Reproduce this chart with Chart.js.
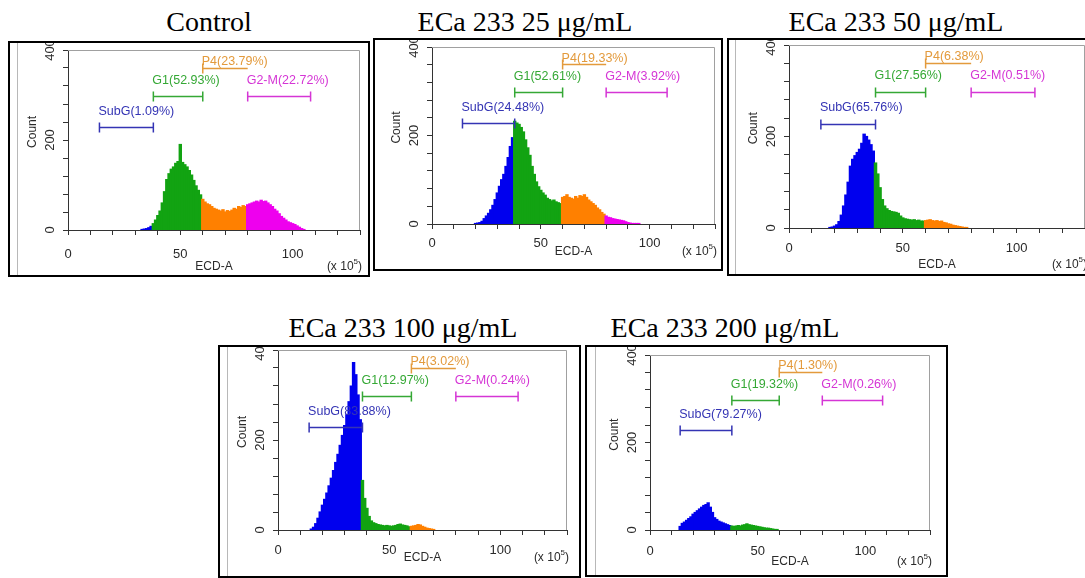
<!DOCTYPE html>
<html>
<head>
<meta charset="utf-8">
<script src="https://cdn.jsdelivr.net/npm/chart.js@4.4.1/dist/chart.umd.min.js"></script>
<style>
  body { margin: 0; background: #fff; width: 1085px; height: 578px; position: relative; overflow: hidden; }
  .title { position: absolute; font-family: "Liberation Serif", "Times New Roman", serif; font-size: 28px; line-height: 1; color: #000; white-space: nowrap; transform: translateX(-50%); }
  .frame { position: absolute; border: 2px solid #000; box-sizing: border-box; overflow: hidden; background: #fff; }
  .frame canvas { position: absolute; left: 0; top: 0; }
  .edge { position: absolute; top: 0; bottom: 0; width: 1px; background: #b8b8b8; }
</style>
</head>
<body>
<script>
// panel titles
const titles = ['Control', 'ECa 233 25 \u03bcg/mL', 'ECa 233 50 \u03bcg/mL', 'ECa 233 100 \u03bcg/mL', 'ECa 233 200 \u03bcg/mL'];

// histogram counts, one bin per x unit (ECD-A, x10^5), first bin given below
const firstBin = [33, 20, 18, 15, 14];
const controlCounts = [1, 2, 3, 5, 8, 14, 22, 32, 42, 60, 85, 112, 125, 135, 140, 148, 152, 190, 150, 145, 140, 132, 122, 110, 98, 88, 78, 68, 62, 58, 56, 52, 48, 46, 44, 42, 45, 40, 43, 41, 44, 48, 46, 52, 50, 54, 52, 56, 58, 60, 62, 64, 62, 66, 63, 64, 60, 56, 52, 46, 42, 36, 30, 26, 22, 18, 16, 14, 12, 9, 6, 3, 1];
const eca25Counts = [1, 2, 3, 6, 12, 18, 24, 32, 42, 55, 70, 85, 100, 112, 130, 150, 175, 195, 232, 228, 225, 218, 208, 190, 172, 155, 130, 112, 95, 84, 76, 70, 65, 58, 55, 52, 54, 50, 48, 46, 60, 62, 66, 60, 58, 56, 62, 58, 64, 62, 66, 60, 54, 50, 46, 42, 36, 32, 26, 22, 18, 15, 14, 12, 11, 10, 9, 8, 7, 5, 3, 2, 1, 1, 1, 1];
const eca50Counts = [1, 2, 4, 7, 14, 28, 48, 72, 100, 135, 150, 158, 165, 172, 185, 205, 200, 192, 182, 168, 142, 118, 88, 62, 48, 42, 38, 36, 35, 34, 32, 26, 22, 20, 19, 18, 17, 18, 16, 17, 15, 15, 16, 17, 18, 16, 15, 16, 14, 15, 12, 11, 9, 8, 6, 5, 4, 3, 2, 1, 1];
const eca100Counts = [2, 6, 14, 26, 40, 55, 68, 82, 98, 115, 132, 150, 168, 188, 210, 232, 256, 285, 320, 372, 345, 300, 245, 110, 70, 48, 30, 20, 16, 14, 12, 11, 10, 9, 10, 9, 8, 9, 10, 12, 13, 11, 10, 9, 7, 8, 9, 10, 12, 11, 8, 6, 4, 3, 2, 1];
const eca200Counts = [8, 15, 18, 22, 26, 30, 36, 40, 44, 48, 52, 56, 58, 62, 52, 40, 28, 24, 20, 18, 16, 14, 12, 10, 9, 8, 9, 10, 9, 11, 12, 14, 12, 11, 10, 9, 8, 7, 6, 5, 4, 4, 3, 2, 1, 1];
const allCounts = [controlCounts, eca25Counts, eca50Counts, eca100Counts, eca200Counts];

// gates
const gateNames = ['SubG', 'G1', 'P4', 'G2-M'];
const gateFrom = [14, 38, 60, 80];
const gateTo = [38, 60, 80, 108];
const gateLevel = [228, 298, 361, 298];
const gateLabelLevel = [256, 325, 367, 325];
const subgPct = ['1.09', '24.48', '65.76', '83.88', '79.27'];
const g1Pct = ['52.93', '52.61', '27.56', '12.97', '19.32'];
const p4Pct = ['23.79', '19.33', '6.38', '3.02', '1.30'];
const g2mPct = ['22.72', '3.92', '0.51', '0.24', '0.26'];

// axis ticks
const xLabels = [0, 50, 100];
const yLabels = [0, 200, 400];

// colours
const fillColors = ['#0000ee', '#12a312', '#ff8000', '#ee00ee'];
const gateColors = ['#3434b4', '#35a835', '#e39a3c', '#d535d5'];

// layout (page pixels): frame box, plot area, title anchor
const frames = [[8, 41, 370, 277], [373, 38, 723, 271], [727, 38, 1092, 276], [218, 345, 581, 578], [585, 345, 948, 577]];
const plots = [[68, 50, 360, 230], [432, 47, 715, 224], [789, 45, 1085, 228], [278, 350, 567, 530], [650, 355, 930, 530]];
const titlePos = [[209, 31], [525, 31], [896, 31], [403, 337], [725, 337]];
const tickOff = [24, 19, 20, 20, 21];
const axisTitleOff = [37, 28, 37, 28, 32];
const grayEdge = [7, null, 6, 7, 8];

const sans = '"Liberation Sans", Arial, sans-serif';

function binColor(x) {
    if (x < gateFrom[1]) return fillColors[0];
    if (x < gateFrom[2]) return fillColors[1];
    if (x < gateFrom[3]) return fillColors[2];
    return fillColors[3];
}

function overlay(i) {
    const pcts = [subgPct[i], g1Pct[i], p4Pct[i], g2mPct[i]];
    return {
        id: 'overlay' + i,
        afterDraw(chart) {
            const ctx = chart.ctx, xs = chart.scales.x, ys = chart.scales.y, a = chart.chartArea;
            ctx.save();

            // light frame on top and right of plot
            ctx.strokeStyle = '#a0a0a0';
            ctx.lineWidth = 1;
            ctx.beginPath();
            ctx.moveTo(a.left, a.top + 0.5);
            ctx.lineTo(a.right - 0.5, a.top + 0.5);
            ctx.lineTo(a.right - 0.5, a.bottom);
            ctx.stroke();

            // gate markers and labels
            for (let g = 0; g < gateNames.length; g++) {
                const y = Math.round(ys.getPixelForValue(gateLevel[g])) + 0.5;
                const x1 = xs.getPixelForValue(gateFrom[g]);
                const x2 = xs.getPixelForValue(gateTo[g]);
                ctx.strokeStyle = gateColors[g];
                ctx.lineWidth = 1.5;
                ctx.beginPath();
                ctx.moveTo(x1, y); ctx.lineTo(x2, y);
                ctx.moveTo(x1, y - 5); ctx.lineTo(x1, y + 5);
                if (g !== 2) { ctx.moveTo(x2, y - 5); ctx.lineTo(x2, y + 5); }
                ctx.stroke();

                ctx.fillStyle = gateColors[g];
                ctx.font = '12.5px ' + sans;
                ctx.textAlign = 'left';
                ctx.textBaseline = 'alphabetic';
                ctx.fillText(gateNames[g] + '(' + pcts[g] + '%)', x1 - 1, ys.getPixelForValue(gateLabelLevel[g]));
            }

            // tick labels
            ctx.fillStyle = '#2a2a2a';
            ctx.font = '13px ' + sans;
            ctx.textAlign = 'center';
            ctx.textBaseline = 'middle';
            xLabels.forEach(v => ctx.fillText(String(v), xs.getPixelForValue(v), a.bottom + tickOff[i]));
            yLabels.forEach(v => {
                ctx.save();
                ctx.translate(a.left - 18, ys.getPixelForValue(v));
                ctx.rotate(-Math.PI / 2);
                ctx.fillText(String(v), 0, 0);
                ctx.restore();
            });

            // axis titles
            ctx.font = '12px ' + sans;
            ctx.save();
            ctx.translate(a.left - 35, ys.getPixelForValue(218));
            ctx.rotate(-Math.PI / 2);
            ctx.fillText('Count', 0, 0);
            ctx.restore();
            const ty = a.bottom + axisTitleOff[i];
            ctx.fillText('ECD-A', xs.getPixelForValue(65), ty);

            // (x 10^5)
            ctx.textAlign = 'right';
            const right = a.right + 2;
            ctx.fillText(')', right, ty);
            const wParen = ctx.measureText(')').width;
            ctx.font = '8px ' + sans;
            ctx.fillText('5', right - wParen, ty - 5);
            const wSup = ctx.measureText('5').width;
            ctx.font = '12px ' + sans;
            ctx.fillText('(x 10', right - wParen - wSup, ty);

            ctx.restore();
        }
    };
}

titles.forEach((t, i) => {
    const d = document.createElement('div');
    d.className = 'title';
    d.textContent = t;
    d.style.left = titlePos[i][0] + 'px';
    d.style.top = (titlePos[i][1] - 23.4) + 'px';
    document.body.appendChild(d);
});

allCounts.forEach((counts, i) => {
    const fr = frames[i], pl = plots[i];
    const frame = document.createElement('div');
    frame.className = 'frame';
    frame.style.left = fr[0] + 'px';
    frame.style.top = fr[1] + 'px';
    frame.style.width = (fr[2] - fr[0]) + 'px';
    frame.style.height = (fr[3] - fr[1]) + 'px';
    document.body.appendChild(frame);

    if (grayEdge[i] !== null) {
        const e = document.createElement('div');
        e.className = 'edge';
        e.style.left = grayEdge[i] + 'px';
        frame.appendChild(e);
    }

    const cl = fr[0] + 2, ct = fr[1] + 2;
    const cw = fr[2] - fr[0] - 4, ch = fr[3] - fr[1] - 4;
    const canvas = document.createElement('canvas');
    canvas.width = cw; canvas.height = ch;
    canvas.style.width = cw + 'px'; canvas.style.height = ch + 'px';
    frame.appendChild(canvas);

    const yWidth = pl[0] - cl;
    const xHeight = (ct + ch) - pl[3];
    const padTop = pl[1] - ct;
    const padRight = (cl + cw) - pl[2];

    const points = counts.map((c, k) => ({ x: firstBin[i] + k, y: c }));

    new Chart(canvas, {
        type: 'bar',
        data: {
            datasets: [{
                data: points,
                backgroundColor: points.map(p => binColor(p.x)),
                borderWidth: 0,
                barPercentage: 1,
                categoryPercentage: 1,
                inflateAmount: 0.6
            }]
        },
        options: {
            responsive: false,
            animation: false,
            devicePixelRatio: 1,
            layout: { padding: { top: padTop, right: padRight, left: 0, bottom: 0 } },
            plugins: { legend: { display: false }, tooltip: { enabled: false } },
            scales: {
                x: {
                    type: 'linear',
                    min: 0,
                    max: 130,
                    offset: false,
                    ticks: { stepSize: 10, display: false },
                    grid: { offset: false, drawOnChartArea: false, drawTicks: true, tickLength: 5, color: '#333' },
                    border: { display: true, color: '#333', width: 1 },
                    afterFit: s => { s.height = xHeight; }
                },
                y: {
                    min: 0,
                    max: 400,
                    ticks: { stepSize: 40, display: false },
                    grid: { drawOnChartArea: false, drawTicks: true, tickLength: 5, color: '#333' },
                    border: { display: true, color: '#333', width: 1 },
                    afterFit: s => { s.width = yWidth; }
                }
            }
        },
        plugins: [overlay(i)]
    });
});
</script>
</body>
</html>
